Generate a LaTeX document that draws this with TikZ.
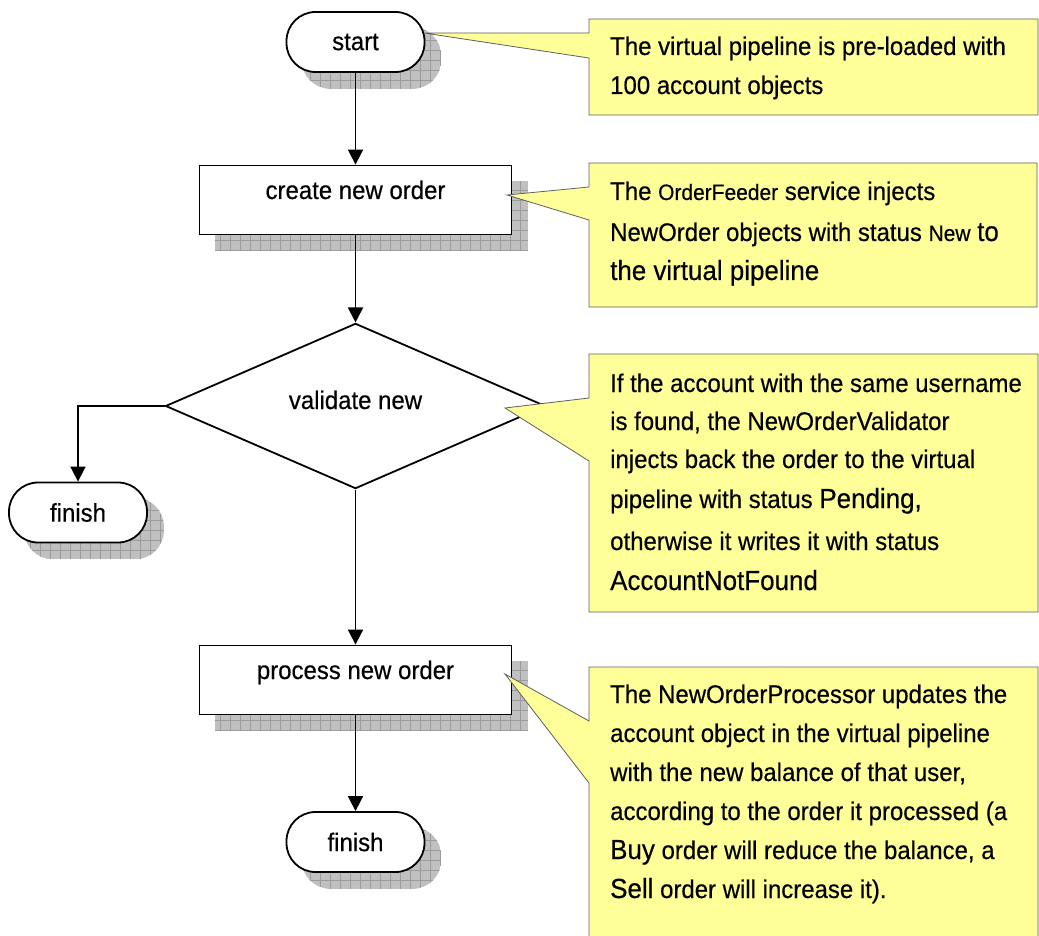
\documentclass[tikz,border=0pt]{standalone}
\usepackage{fontspec}
\setmainfont{Liberation Sans}[FakeStretch=0.94,FakeBold=0.4]
\usetikzlibrary{shapes.geometric,arrows.meta,backgrounds}
\definecolor{callfill}{RGB}{255,255,153}
\definecolor{callline}{RGB}{95,95,95}
\definecolor{shadowgray}{RGB}{192,192,192}
\definecolor{shadowline}{RGB}{155,155,155}
\newcommand\gridshadow[2]{%
  \begin{scope}
    \clip[rounded corners=#2] ([shift={(16pt,-16pt)}]#1.south west) rectangle ([shift={(16pt,-16pt)}]#1.north east);
    \fill[shadowgray] ([shift={(16pt,-16pt)}]#1.south west) rectangle ([shift={(16pt,-16pt)}]#1.north east);
    \draw[shadowline, line width=0.6pt, step=10pt] ([shift={(16pt,-16pt)}]#1.south west) grid ([shift={(16pt,-16pt)}]#1.north east);
  \end{scope}}
\tikzset{
  every node/.style={font=\fontsize{25.5}{30}\selectfont},
  term/.style={draw, line width=1.8pt, fill=white, rounded corners=29pt, minimum width=138pt, minimum height=60pt, inner sep=0pt},
  procbox/.style={draw, line width=1.8pt, fill=white, minimum width=312pt, minimum height=69pt, inner sep=0pt, text height=19pt, text depth=21pt},
  decide/.style={draw, diamond, line width=1.8pt, fill=white, minimum width=380pt, minimum height=102pt, inner sep=0pt, text height=19pt, text depth=13pt},
  arr/.style={line width=1.7pt, -{Triangle[width=15pt,length=15pt]}},
  callout/.style={draw=callline, fill=callfill, line width=0.8pt, line join=miter},
  calltext/.style={anchor=base west, inner sep=0pt},
}
\begin{document}
\begin{tikzpicture}[x=1pt, y=-1pt]
\path[use as bounding box] (0,0) rectangle (1039,936);

% flowchart nodes
\node[term] (start) at (355.5,42) {start};
\node[procbox] (create) at (355.5,200) {create new order};
\node[decide] (validate) at (355.5,406) {validate new};
\node[term] (finishA) at (78,512.5) {finish};
\node[procbox] (process) at (355.5,680) {process new order};
\node[term] (finishB) at (355.5,842) {finish};

% shadows
\begin{scope}[on background layer]
  \gridshadow{start}{29pt}
  \gridshadow{create}{0pt}
  \gridshadow{finishA}{29pt}
  \gridshadow{process}{0pt}
  \gridshadow{finishB}{29pt}
\end{scope}

% connectors
\draw[arr] (start.south) -- (create.north);
\draw[arr] (create.south) -- (validate.north);
\draw[arr] (validate.south) -- (process.north);
\draw[arr] (process.south) -- (finishB.north);
\draw[arr] (validate.west) -| (finishA.north);

% callouts
\begin{scope}
\clip (0,0) rectangle (1039,936);
\draw[callout] (589,19) -- (1038,19) -- (1038,115) -- (589,115) -- (589,58) -- (424,33) -- (589,33) -- cycle;
\draw[callout] (589,163) -- (1037,163) -- (1037,307) -- (589,307) -- (589,220) -- (507,195) -- (589,187) -- cycle;
\draw[callout] (589,354) -- (1038,354) -- (1038,612) -- (589,612) -- (589,461) -- (505,408) -- (589,398) -- cycle;
\draw[callout] (589,667) -- (1038,667) -- (1038,960) -- (589,960) -- (589,783) -- (505,674) -- (589,721) -- cycle;
\end{scope}

\node[calltext] (noteA) at (610,55) {\parbox[t]{428pt}{\raggedright\fontsize{25.5}{39}\selectfont
The virtual pipeline is pre-loaded with\\
100 account objects}};

\node[calltext] (noteB) at (610,200) {\parbox[t]{428pt}{\raggedright\fontsize{25.5}{39}\selectfont
The {\fontsize{22.3}{39}\selectfont OrderFeeder} service injects\\[2pt]
NewOrder objects with status {\fontsize{22.3}{39}\selectfont New} {\fontsize{27.6}{39}\selectfont to}\\
{\fontsize{27.6}{39}\selectfont the virtual pipeline}}};

\node[calltext] (noteC) at (610,392) {\parbox[t]{428pt}{\raggedright\fontsize{25.5}{38}\selectfont
If the account with the same username\\
is found, the NewOrderValidator\\
injects back the order to the virtual\\[2pt]
pipeline with status {\fontsize{27.6}{38}\selectfont Pending,}\\[4pt]
otherwise it writes it with status\\[2pt]
{\fontsize{27.6}{38}\selectfont AccountNotFound}}};

\node[calltext] (noteD) at (610,703) {\parbox[t]{428pt}{\raggedright\fontsize{25.5}{39}\selectfont
The NewOrderProcessor updates the\\
account object in the virtual pipeline\\
with the new balance of that user,\\
according to the order it processed (a\\
{\fontsize{27.6}{39}\selectfont Buy} order will reduce the balance, a\\
{\fontsize{27.6}{39}\selectfont Sell} order will increase it).}};
\end{tikzpicture}
\end{document}
